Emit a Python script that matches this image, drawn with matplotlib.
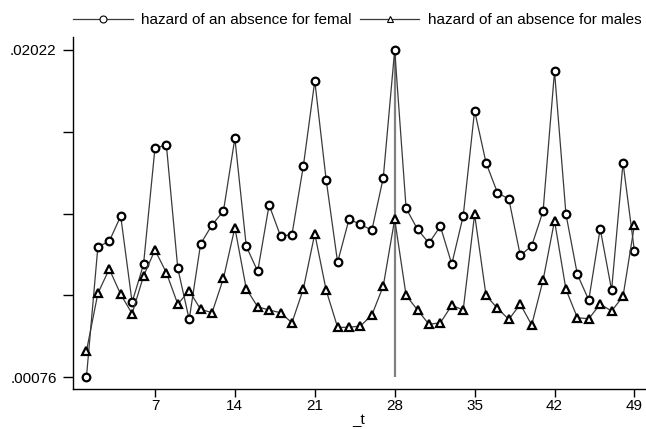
import matplotlib
matplotlib.use("Agg")
import matplotlib.pyplot as plt
from matplotlib.lines import Line2D

plt.rcParams['font.family'] = ['Liberation Sans', 'DejaVu Sans']

t = list(range(1, 50))

hazard_female = [
    0.00076, 0.00850, 0.00884, 0.01034, 0.00521, 0.00747, 0.01437, 0.01457,
    0.00723, 0.00419, 0.00868, 0.00981, 0.01064, 0.01497, 0.00854, 0.00705,
    0.01100, 0.00915, 0.00923, 0.01332, 0.01838, 0.01248, 0.00759, 0.01015,
    0.00985, 0.00949, 0.01262, 0.02022, 0.01080, 0.00955, 0.00873, 0.00973,
    0.00748, 0.01034, 0.01661, 0.01351, 0.01173, 0.01135, 0.00800, 0.00856,
    0.01064, 0.01895, 0.01046, 0.00687, 0.00534, 0.00959, 0.00594, 0.01351,
    0.00826,
]

hazard_male = [
    0.00231, 0.00574, 0.00719, 0.00568, 0.00453, 0.00677, 0.00832, 0.00697,
    0.00510, 0.00590, 0.00479, 0.00459, 0.00663, 0.00965, 0.00601, 0.00494,
    0.00475, 0.00459, 0.00399, 0.00601, 0.00929, 0.00592, 0.00372, 0.00372,
    0.00380, 0.00445, 0.00618, 0.01015, 0.00562, 0.00475, 0.00390, 0.00399,
    0.00503, 0.00475, 0.01044, 0.00562, 0.00485, 0.00419, 0.00510, 0.00386,
    0.00653, 0.01006, 0.00598, 0.00429, 0.00423, 0.00510, 0.00469, 0.00556,
    0.00981,
]

x_ticks = [7, 14, 21, 28, 35, 42, 49]
y_min_label, y_max_label = 0.00076, 0.02022
peak_t = 28

fig = plt.figure(figsize=(6.46, 4.29), dpi=100)
ax = fig.add_axes([0.1135, 0.0932, 0.8845, 0.8205])

line_col = '#3a3a3a'

# reference spike at the peak period
ax.vlines(peak_t, y_min_label, y_max_label, color='#808080', lw=1.6, zorder=1)

ax.plot(t, hazard_female, color=line_col, lw=0.9, marker='o', ms=5.5,
        mfc='white', mec='black', mew=1.6, zorder=3)
ax.plot(t, hazard_male, color=line_col, lw=0.9, marker='^', ms=6,
        mfc='white', mec='black', mew=1.6, zorder=3)

ax.set_xlim(-0.15, 49.9)
ax.set_ylim(0.00005, 0.02099)

ax.set_xticks(x_ticks)
ax.set_xticklabels([str(v) for v in x_ticks])
step = (y_max_label - y_min_label) / 4
yt = [y_min_label + i * step for i in range(5)]
ax.set_yticks(yt)
ax.set_yticklabels(['.00076', '', '', '', '.02022'])

for side in ('top', 'right'):
    ax.spines[side].set_visible(False)
for side in ('left', 'bottom'):
    ax.spines[side].set_linewidth(1.0)
ax.tick_params(axis='x', direction='out', length=6, width=1.0,
               labelsize=11, pad=1)
ax.tick_params(axis='y', direction='out', length=7, width=1.0,
               labelsize=11, pad=5)

ax.set_xlabel('_t', fontsize=11, labelpad=0)

handles = [
    Line2D([], [], color=line_col, lw=0.9, marker='o', ms=5, mfc='white',
           mec='black', mew=0.8),
    Line2D([], [], color=line_col, lw=0.9, marker='^', ms=5, mfc='white',
           mec='black', mew=0.8),
]
labels = ['hazard of an absence for femal', 'hazard of an absence for males']
fig.legend(handles, labels, loc='center left', bbox_to_anchor=(0.0917, 0.953),
           ncol=2, frameon=False, fontsize=11, handlelength=3.9,
           handletextpad=0.55, columnspacing=0.55, borderpad=0.4,
           borderaxespad=0.5)

fig.savefig('out.png', dpi=100)
